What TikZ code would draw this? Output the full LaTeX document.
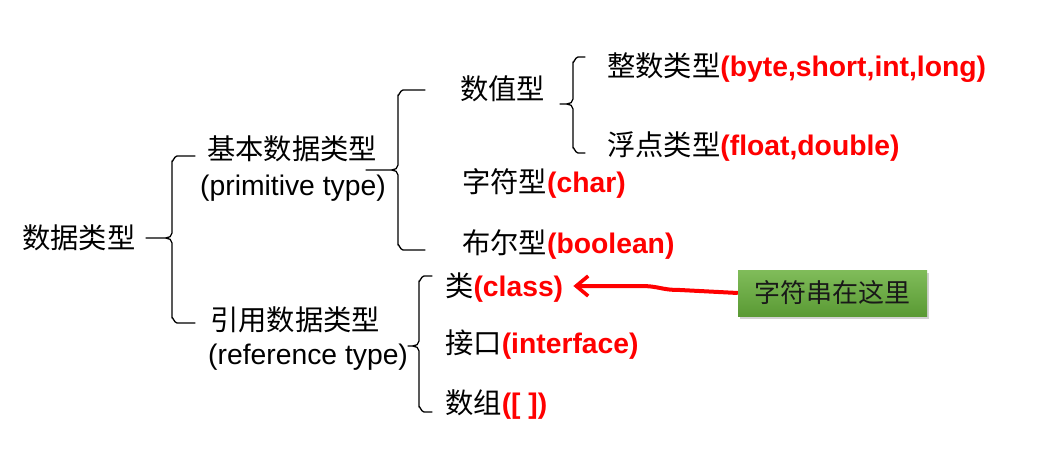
\documentclass[tikz,border=0pt]{standalone}
\usepackage{fontspec}
\setmainfont{Liberation Sans}
\newfontfamily\cjk{Noto Sans CJK SC}
\usetikzlibrary{arrows.meta,shadows,calc}
\definecolor{gtop}{RGB}{128,188,90}
\definecolor{gbot}{RGB}{90,154,52}
\newcommand{\rb}[1]{\textcolor{red}{\bfseries #1}}
\begin{document}
\begin{tikzpicture}[x=1pt,y=-1pt,
  txt/.style={anchor=base west,inner sep=0pt,font=\fontsize{28.3}{31}\selectfont},
  brc/.style={line width=1.3pt,line cap=round,line join=round},
  redarrow/.style={red,line width=4pt,-{Straight Barb[length=12pt,width=20pt,line width=3.6pt]}}]
\fill[white] (0,0) rectangle (1059,457);
\useasboundingbox (0,0) rectangle (1059,457);
% texts
\node[txt] (root) at (22,248) {\cjk 数据类型};
\node[txt] (prim1) at (207,160) {\cjk 基本数据类型};
\node[txt] (prim2) at (200,196) {(primitive type)};
\node[txt] (ref1) at (210,330) {\cjk 引用数据类型};
\node[txt] (ref2) at (208,364) {(reference type)};
\node[txt] (num) at (460,100) {\cjk 数值型};
\node[txt] (int) at (607,77) {{\cjk 整数类型}\rb{(byte,short,int,long)}};
\node[txt] (flt) at (607,156) {{\cjk 浮点类型}\rb{(float,double)}};
\node[txt] (chr) at (462,193) {{\cjk 字符型}\rb{(char)}};
\node[txt] (bool) at (462,253) {{\cjk 布尔型}\rb{(boolean)}};
\node[txt] (cls) at (445,296) {{\cjk 类}\rb{(class)}};
\node[txt] (itf) at (445,353) {{\cjk 接口}\rb{(interface)}};
\node[txt] (arr) at (445,413) {{\cjk 数组}\rb{([ ])}};
% braces: arm x, vertical x, tip x, top y, mid y, bottom y
\newcommand{\mybrace}[6]{%
  \draw[brc] (#1,#4) -- (#2+5,#4) to[out=180,in=-90] (#2,#4+5) -- (#2,#5-5)
    to[out=-90,in=0] (#2-6,#5) -- (#3,#5);
  \draw[brc] (#2-6,#5) to[out=0,in=90] (#2,#5+5) -- (#2,#6-5)
    to[out=90,in=180] (#2+5,#6) -- (#1,#6);}
\mybrace{195}{172}{146}{156}{238}{323}
\mybrace{425}{398}{366}{90}{170}{250}
\mybrace{585}{573}{560}{57}{104}{153}
\mybrace{432}{419}{408}{276}{346}{412}
% green box
\node[drop shadow={opacity=0.35,shadow xshift=2pt,shadow yshift=-3pt},
  top color=gtop,bottom color=gbot,minimum width=189pt,minimum height=46pt,
  inner sep=0pt,font=\fontsize{26}{28}\selectfont\cjk,text=black!90]
  (gbox) at (832.5,293) {字符串在这里};
\coordinate (tip) at ($(cls.east)+(10,0)$);
\draw[redarrow] (gbox.west) -- (680,290) .. controls (660,290) and (660,286) .. (640,286) -- (tip |- 0,286);
\end{tikzpicture}
\end{document}
